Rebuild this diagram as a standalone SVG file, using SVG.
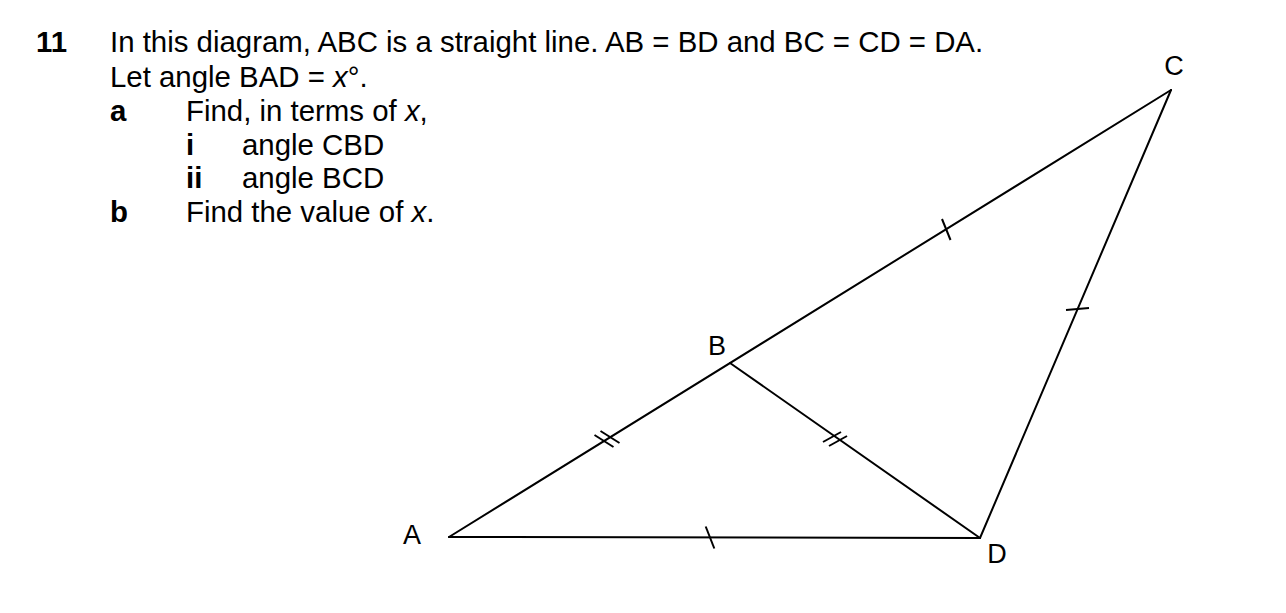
<svg xmlns="http://www.w3.org/2000/svg" width="1286" height="613" viewBox="0 0 1286 613">
<style>
.t{font-family:"Liberation Sans",Arial,sans-serif;font-size:29.4px;fill:#000}
.b{font-weight:bold}
.i{font-style:italic}
.lbl{font-family:"Liberation Sans",Arial,sans-serif;font-size:27px;fill:#000;text-anchor:middle}
.ln{stroke:#000;stroke-width:2;fill:none;stroke-linecap:round}
.tk{stroke:#000;stroke-width:2;fill:none}
</style>
<rect width="1286" height="613" fill="#fff"/>
<g id="question">
<text class="t b" x="36" y="52">11</text>
<text class="t" x="110" y="52">In this diagram, ABC is a straight line. AB = BD and BC = CD = DA.</text>
<text class="t" x="110" y="87">Let angle BAD = <tspan class="i">x</tspan>°.</text>
<text class="t b" x="110" y="121">a</text>
<text class="t" x="186" y="121">Find, in terms of <tspan class="i">x</tspan>,</text>
<text class="t b" x="186" y="155">i</text>
<text class="t" x="242" y="155">angle CBD</text>
<text class="t b" x="186" y="188">ii</text>
<text class="t" x="242" y="188">angle BCD</text>
<text class="t b" x="110" y="222">b</text>
<text class="t" x="186" y="222">Find the value of <tspan class="i">x</tspan>.</text>
</g>
<g id="connectors">
<line class="ln" x1="449" y1="537" x2="1171" y2="90"/>
<line class="ln" x1="730" y1="363" x2="980" y2="538"/>
<line class="ln" x1="449" y1="537" x2="980" y2="538"/>
<line class="ln" x1="1171" y1="90" x2="980" y2="538"/>
<g id="ticks">
<line class="tk" x1="594.5" y1="435" x2="613.5" y2="447"/>
<line class="tk" x1="600.5" y1="431" x2="619.5" y2="443"/>
<line class="tk" x1="823" y1="442" x2="841" y2="432"/>
<line class="tk" x1="829" y1="446" x2="847" y2="436"/>
<line class="tk" x1="705.7" y1="526.5" x2="714.3" y2="548.5"/>
<line class="tk" x1="942" y1="219" x2="950.5" y2="240"/>
<line class="tk" x1="1066" y1="310" x2="1089" y2="308"/>
</g>
</g>
<g id="node-A"><text class="lbl" x="412" y="544">A</text></g>
<g id="node-B"><text class="lbl" x="717" y="355">B</text></g>
<g id="node-C"><text class="lbl" x="1174" y="75">C</text></g>
<g id="node-D"><text class="lbl" x="997" y="563">D</text></g>
</svg>
